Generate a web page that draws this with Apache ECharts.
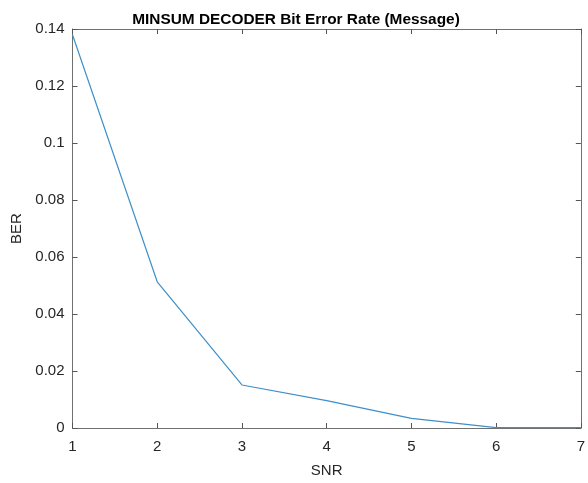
<!DOCTYPE html>
<html>
<head>
<meta charset="utf-8">
<script src="https://cdn.jsdelivr.net/npm/echarts@6/dist/echarts.min.js"></script>
<style>
  html, body { margin: 0; padding: 0; background: #fff; }
  #main { width: 588px; height: 483px; }
</style>
</head>
<body>
<div id="main"></div>
<script>
// values
const snr = [1, 2, 3, 4, 5, 6, 7];
const ber = [0.138, 0.0513, 0.0151, 0.0096, 0.0034, 0.0001, 0.0001];

const font = '"Liberation Sans", Arial, sans-serif';
const axisCol = '#707070';
const textCol = '#262626';

const chart = echarts.init(document.getElementById('main'));

const baseX = {
  type: 'value', min: 1, max: 7, interval: 1,
  axisLine: { show: true, onZero: false, lineStyle: { color: axisCol, width: 1 } },
  axisTick: { show: true, inside: true, length: 5, lineStyle: { color: '#555', width: 1 } },
  splitLine: { show: false }
};
const baseY = {
  type: 'value', min: 0, max: 0.14, interval: 0.02,
  axisLine: { show: true, onZero: false, lineStyle: { color: axisCol, width: 1 } },
  axisTick: { show: true, inside: true, length: 5, lineStyle: { color: '#555', width: 1 } },
  splitLine: { show: false }
};

chart.setOption({
  animation: false,
  title: {
    text: 'MINSUM DECODER Bit Error Rate (Message)',
    left: 291, top: 7, textAlign: 'center',
    textStyle: { fontFamily: font, fontSize: 15.4, fontWeight: 'bold', color: '#000' }
  },
  grid: { left: 72.5, right: 5.5, top: 29, bottom: 51, containLabel: false },
  xAxis: [
    Object.assign({}, baseX, {
      position: 'bottom',
      name: 'SNR', nameLocation: 'middle', nameGap: 35,
      nameTextStyle: { fontFamily: font, fontSize: 15, color: textCol },
      axisLabel: { fontFamily: font, fontSize: 15, color: textCol, margin: 11,
        formatter: v => String(v) }
    }),
    Object.assign({}, baseX, { position: 'top', axisLabel: { show: false } })
  ],
  yAxis: [
    Object.assign({}, baseY, {
      position: 'left',
      name: 'BER', nameLocation: 'middle', nameGap: 46,
      nameTextStyle: { fontFamily: font, fontSize: 15, color: textCol },
      axisLabel: { fontFamily: font, fontSize: 15, color: textCol, margin: 8,
        formatter: v => (v === 0 ? '0' : String(+v.toFixed(2))) }
    }),
    Object.assign({}, baseY, { position: 'right', axisLabel: { show: false } })
  ],
  series: [{
    type: 'line',
    data: snr.map((x, i) => [x, ber[i]]),
    showSymbol: false,
    lineStyle: { color: '#3f8fc8', width: 1.2 },
    itemStyle: { color: '#3f8fc8' }
  }]
});
</script>
</body>
</html>
